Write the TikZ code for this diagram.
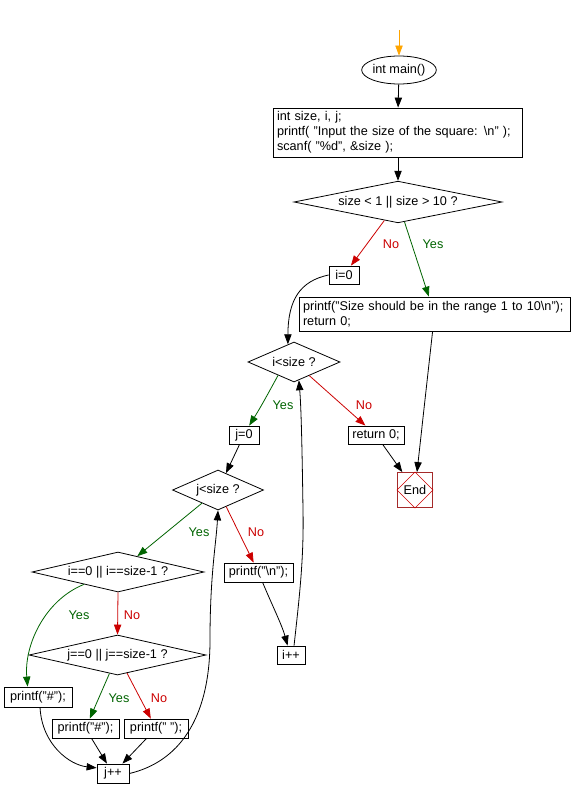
\documentclass[tikz,border=0pt]{standalone}
\usepackage{fontspec}
\setmainfont{Liberation Sans}
\usetikzlibrary{shapes.geometric,arrows.meta}
\definecolor{gvred}{RGB}{204,0,0}
\definecolor{gvgreen}{RGB}{0,100,0}
\definecolor{gvorange}{RGB}{255,165,0}
\definecolor{endbrown}{RGB}{165,42,42}
\begin{document}
\begin{tikzpicture}[x=0.75pt,y=-0.75pt,
  font=\fontsize{9.5}{11.25}\selectfont,
  line width=0.6pt,
  >={Triangle[length=7.5pt,width=5.5pt]},
  box/.style={draw,rectangle,inner sep=0pt},
  tbox/.style={draw,rectangle,inner xsep=3pt,inner ysep=0pt,align=left},
  dia/.style={draw,diamond,inner sep=0pt,aspect=4},
  arr/.style={->},
  yesarr/.style={->,gvgreen},
  noarr/.style={->,gvred},
  yeslbl/.style={text=gvgreen,inner sep=0pt},
  nolbl/.style={text=gvred,inner sep=0pt}]
\fill[white] (0,0) rectangle (579,799);
\useasboundingbox (0,0) rectangle (579,799);

\coordinate (start) at (399,30);
\node[draw,ellipse,inner sep=0pt,minimum width=55.5pt,minimum height=21pt] (main) at (399,70) {int main()};
\node[tbox,text width=180.75pt,minimum height=36.75pt] (decl) at (397.5,132.5)
  {int size, i, j;\\printf( "Input the size of the square: \textbackslash n" );\\scanf( "\%d", \&size );};
\node[dia,minimum width=156pt,minimum height=30pt] (d1) at (398,202) {size < 1 || size > 10 ?};
\node[box,minimum width=22.5pt,minimum height=13.5pt] (i0) at (344,275) {i=0};
\node[tbox,text width=197.25pt,minimum height=25.5pt] (sizebox) at (434.5,314)
  {printf("Size should be in the range 1 to 10\textbackslash n");\\return 0;};
\node[dia,minimum width=69pt,minimum height=30pt] (d2) at (294,362) {i<size ?};
\node[box,minimum width=22.5pt,minimum height=13.5pt] (j0) at (244,435) {j=0};
\node[box,minimum width=42pt,minimum height=13.5pt] (ret) at (376,435) {return 0;};
\node[draw=endbrown,rectangle,inner sep=0pt,minimum width=26.25pt,minimum height=26.25pt] (End) at (415,490) {End};
\draw[red!80!black,line width=0.4pt] (End.north) -- (End.east) -- (End.south) -- (End.west) -- cycle;
\node[dia,minimum width=68.25pt,minimum height=30pt] (d3) at (218,490) {j<size ?};
\node[dia,minimum width=129pt,minimum height=30pt] (d4) at (118,572) {i==0 || i==size-1 ?};
\node[box,minimum width=51.75pt,minimum height=14.25pt] (pn) at (258.5,572.5) {printf("\textbackslash n");};
\node[box,minimum width=21pt,minimum height=13.5pt] (ipp) at (291,655) {i++};
\node[dia,minimum width=132.75pt,minimum height=30pt] (d5) at (117.5,655) {j==0 || j==size-1 ?};
\node[box,minimum width=51pt,minimum height=15pt] (ph1) at (38,697) {printf("\#");};
\node[box,minimum width=50.25pt,minimum height=14.25pt] (ph2) at (85.5,728.5) {printf("\#");};
\node[box,minimum width=48pt,minimum height=14.25pt] (ps) at (156,728.5) {printf(" ");};
\node[box,minimum width=24pt,minimum height=14.25pt] (jpp) at (113,773.5) {j++};

% edges
\draw[->,gvorange] (start) -- (main);
\draw[arr] (main) -- (decl);
\draw[arr] (decl.south -| d1.north) -- (d1);
\draw[noarr] (d1) -- (i0);
\draw[yesarr] (d1) -- (sizebox);
\draw[arr] (i0.west) .. controls (300,281) and (288,300) .. (d2.109);
\draw[yesarr] (d2.220) .. controls (270,390) and (262,405) .. (j0.61);
\draw[noarr] (d2) -- (ret);
\draw[arr] (ret) -- (End);
\draw[arr] (sizebox) -- (End);
\draw[arr] (j0) -- (d3);
\draw[yesarr] (d3) -- (d4);
\draw[noarr] (d3) -- (pn);
\draw[arr] (pn) .. controls (272,605) and (282,625) .. (ipp.110);
\draw[arr] (ipp.72) .. controls (299,600) and (304,560) .. (303,510)
  .. controls (302,440) and (301,405) .. (d2.285);
\draw[yesarr] (d4.200) .. controls (45,600) and (24,645) .. (ph1.135);
\draw[noarr] (d4.south) -- (d5.north);
\draw[yesarr] (d5) -- (ph2);
\draw[noarr] (d5) -- (ps);
\draw[arr] (ph1.281) .. controls (42,745) and (70,765) .. (jpp.161);
\draw[arr] (ph2) -- (jpp);
\draw[arr] (ps) -- (jpp);
\draw[arr] (jpp.east) .. controls (178,762) and (210,720) .. (210,640)
  .. controls (210,575) and (216,545) .. (d3.south);

% labels
\node[nolbl] (l1n) at (391,244) {No};
\node[yeslbl] (l1y) at (433,244) {Yes};
\node[yeslbl] (l2y) at (283,405) {Yes};
\node[nolbl] (l2n) at (364,405) {No};
\node[yeslbl] (l3y) at (199,532) {Yes};
\node[nolbl] (l3n) at (256,532) {No};
\node[yeslbl] (l4y) at (79,615) {Yes};
\node[nolbl] (l4n) at (132,615) {No};
\node[yeslbl] (l5y) at (119,698) {Yes};
\node[nolbl] (l5n) at (159,698) {No};
\end{tikzpicture}
\end{document}
